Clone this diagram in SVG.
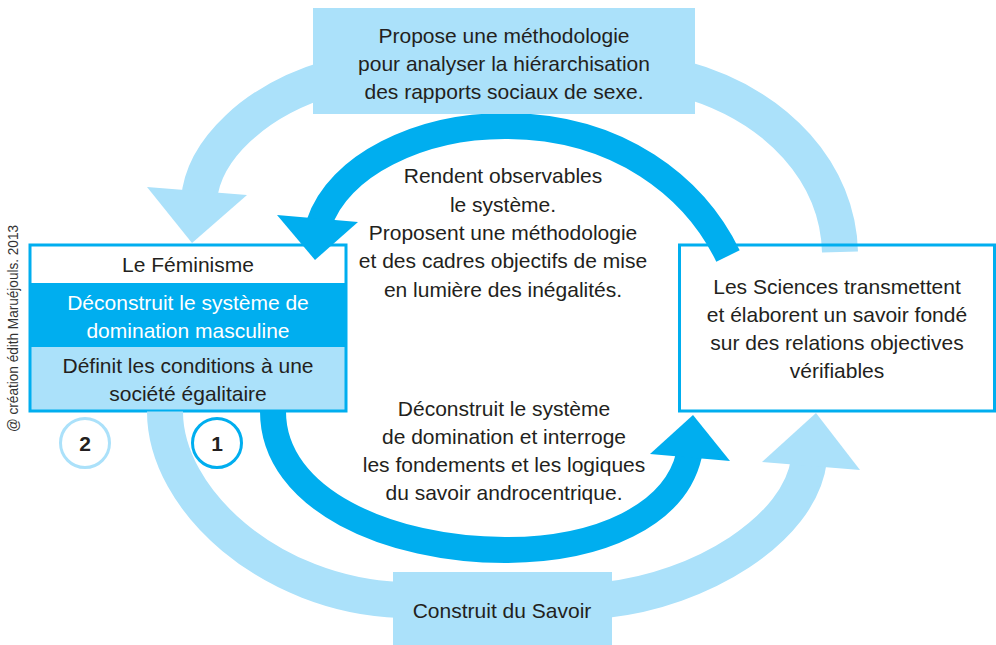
<svg xmlns="http://www.w3.org/2000/svg" width="996" height="645" viewBox="0 0 996 645">
<style>
.t{font-family:"Liberation Sans",Arial,sans-serif;font-size:21px;fill:#231f20;text-anchor:middle}
.tw{fill:#ffffff}
.num{font-family:"Liberation Sans",Arial,sans-serif;font-size:21px;font-weight:bold;fill:#231f20;text-anchor:middle}
.copy{font-family:"Liberation Sans",Arial,sans-serif;font-size:14px;fill:#333333;text-anchor:middle}
.lb{fill:none;stroke:#abe1fa;stroke-width:36}
.db{fill:none;stroke:#00aeef;stroke-width:26}
.lh{fill:#abe1fa}
.dh{fill:#00aeef}
.frame{fill:none;stroke:#00aeef;stroke-width:3}
</style>
<rect width="996" height="645" fill="#ffffff"/>
<text class="copy" transform="translate(18,328.5) rotate(-90)" textLength="207" lengthAdjust="spacingAndGlyphs">@ création édith Maruéjouls. 2013</text>

<g id="feminisme">
<rect x="30" y="245" width="316" height="166" fill="#ffffff"/>
<rect x="30" y="283" width="316" height="64" fill="#00aeef"/>
<rect x="30" y="347" width="316" height="64" fill="#abe1fa"/>
<rect class="frame" x="30" y="245" width="316" height="166"/>
<text class="t" x="188" y="272">Le Féminisme</text>
<text class="t tw" x="188" y="310">Déconstruit le système de</text>
<text class="t tw" x="188" y="338">domination masculine</text>
<text class="t" x="188" y="373">Définit les conditions à une</text>
<text class="t" x="188" y="401">société égalitaire</text>
</g>

<g id="connectors">
<path class="lb" d="M330 78 C255 100 203 150 199 200"/>
<polygon class="lh" points="147,187 247,195 192,243"/>
<path class="lb" d="M680 78 C780 105 838 175 840 252"/>
<path class="lb" d="M165 411.5 C165 500 270 595 400 600"/>
<path class="lb" d="M605 600 C700 590 800 530 809 460"/>
<polygon class="lh" points="762,462 860,470 816,413"/>
<path class="db" d="M728 256 C695 188 620 126 505 126 C420 126 338 165 319 224"/>
<polygon class="dh" points="277,215 358,222 315,260"/>
<path class="db" d="M273 411.5 C273 500 390 550 505 550 C600 550 675 515 689 455"/>
<polygon class="dh" points="650,454 730,461 693,415"/>
</g>

<g id="label-upper">
<text class="t" x="503" y="183">Rendent observables</text>
<text class="t" x="503" y="212">le système.</text>
<text class="t" x="503" y="240">Proposent une méthodologie</text>
<text class="t" x="503" y="268">et des cadres objectifs de mise</text>
<text class="t" x="503" y="297">en lumière des inégalités.</text>
</g>
<g id="label-lower">
<text class="t" x="504" y="416">Déconstruit le système</text>
<text class="t" x="504" y="444">de domination et interroge</text>
<text class="t" x="504" y="472">les fondements et les logiques</text>
<text class="t" x="504" y="500">du savoir androcentrique.</text>
</g>

<g id="methodologie">
<rect x="313" y="8" width="382" height="106" fill="#abe1fa"/>
<text class="t" x="504" y="43">Propose une méthodologie</text>
<text class="t" x="504" y="71">pour analyser la hiérarchisation</text>
<text class="t" x="504" y="99">des rapports sociaux de sexe.</text>
</g>

<g id="sciences">
<rect class="frame" x="679.5" y="245" width="315" height="166" fill="#ffffff"/>
<text class="t" x="837" y="294">Les Sciences transmettent</text>
<text class="t" x="837" y="322">et élaborent un savoir fondé</text>
<text class="t" x="837" y="350">sur des relations objectives</text>
<text class="t" x="837" y="378">vérifiables</text>
</g>

<g id="savoir">
<rect x="393" y="572" width="219" height="73" fill="#abe1fa"/>
<text class="t" x="502" y="618">Construit du Savoir</text>
</g>

<g id="step2">
<circle cx="85" cy="443" r="24.5" fill="#ffffff" stroke="#abe1fa" stroke-width="3"/>
<text class="num" x="85" y="451">2</text>
</g>
<g id="step1">
<circle cx="217" cy="443" r="24.5" fill="#ffffff" stroke="#00aeef" stroke-width="3"/>
<text class="num" x="217" y="451">1</text>
</g>
</svg>
